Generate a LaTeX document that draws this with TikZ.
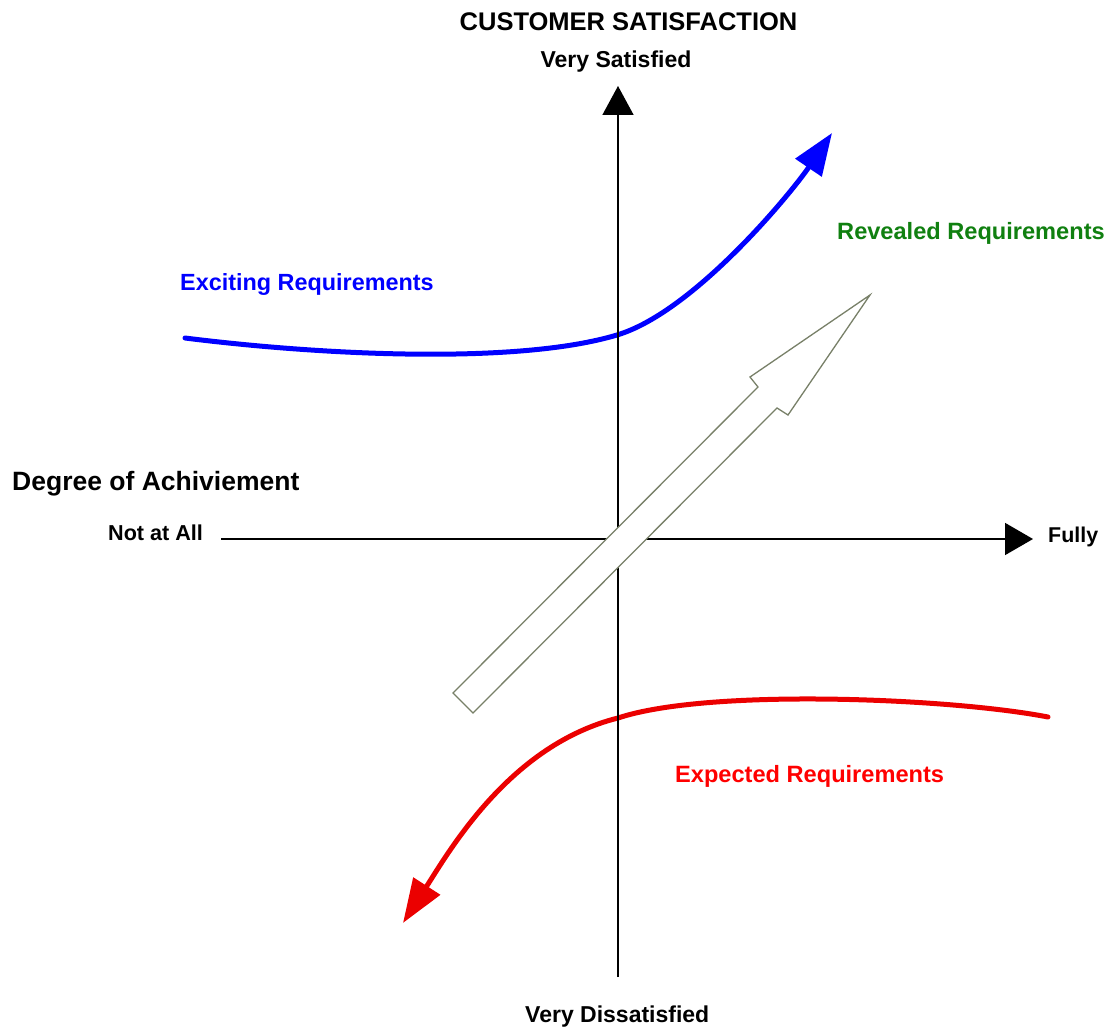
\documentclass[tikz,border=0pt]{standalone}
\usepackage{fontspec}
\setmainfont{Liberation Sans}
\usetikzlibrary{arrows.meta}
\definecolor{excblue}{RGB}{0,0,255}
\definecolor{exptred}{RGB}{235,0,0}
\definecolor{revgreen}{RGB}{16,128,16}
\definecolor{hollowedge}{RGB}{120,128,104}
\begin{document}
\begin{tikzpicture}[x=1pt,y=-1pt,
  lbl/.style={font=\bfseries\fontsize{#1}{#1}\selectfont, inner sep=0pt},
  axisline/.style={line width=1.6pt, black},
  curve/.style={line width=5pt, line cap=round, line join=round},
  hollow/.style={draw=hollowedge, line width=1.3pt, fill=white, line join=miter}]
  \fill[white] (0,0) rectangle (1108,1027);
  \useasboundingbox (0,0) rectangle (1108,1027);

  % requirement curves
  \coordinate (e0) at (185,338);
  \coordinate (e1) at (617,335);
  \coordinate (e2) at (832,133);
  \draw[curve, excblue, -{Triangle[length=42pt,width=31pt]}]
    (e0) .. controls (320,355) and (517,365) .. (e1)
         .. controls (694,312) and (792,192) .. (e2);
  \coordinate (x0) at (1048,717);
  \coordinate (x1) at (618,718);
  \coordinate (x2) at (403,923);
  \draw[curve, exptred, -{Triangle[length=44pt,width=31pt]}]
    (x0) .. controls (950,698) and (708,688) .. (x1)
         .. controls (510,745) and (450,850) .. (x2);

  % axes
  \coordinate (vbot) at (618,977);
  \coordinate (vtop) at (618,86);
  \coordinate (hleft) at (221,539);
  \coordinate (hright) at (1033,539);
  \draw[axisline, -{Triangle[length=29pt,width=31pt]}] (vbot) -- (vtop);
  \draw[axisline, -{Triangle[length=28pt,width=32pt]}] (hleft) -- (hright);

  % revealed requirements arrow
  \draw[hollow] (453,693) -- (758,387) -- (750,377) -- (870,295)
    -- (788,415) -- (777,408) -- (473,713) -- cycle;

  % labels
  \node[lbl=25.5, anchor=base] (title) at (628.5,31) {CUSTOMER SATISFACTION};
  \node[lbl=23, anchor=base] (vsat) at (616,68) {Very Satisfied};
  \node[lbl=26.5, anchor=base west] (degree) at (12,490) {Degree of Achiviement};
  \node[lbl=21.6, anchor=base west] (notall) at (108,540) {Not at All};
  \node[lbl=21.4, anchor=base west] (fully) at (1048,542) {Fully};
  \node[lbl=23, anchor=base west] (vdis) at (525,1022) {Very Dissatisfied};
  \node[lbl=23.4, anchor=base west, text=excblue] (exc) at (180,290) {Exciting Requirements};
  \node[lbl=23.6, anchor=base west, text=revgreen] (rev) at (837,240) {Revealed Requirements};
  \node[lbl=23.6, anchor=base west, text=red] (expt) at (675,782) {Expected Requirements};
\end{tikzpicture}
\end{document}
